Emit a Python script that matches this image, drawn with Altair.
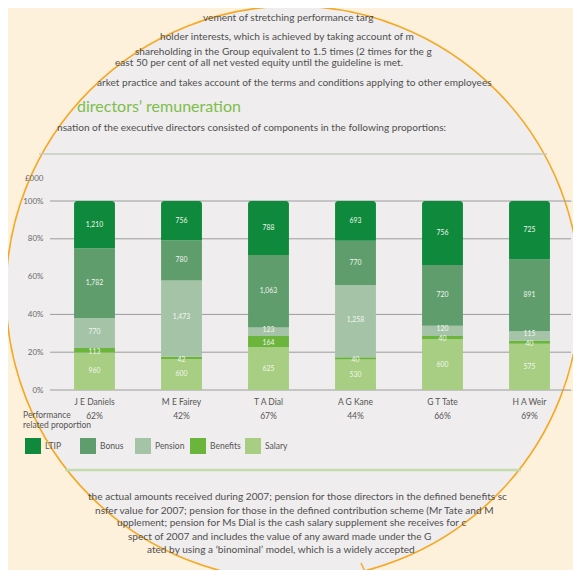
import altair as alt
import pandas as pd

# ---------------- data ----------------
DIRECTORS = ["J E Daniels", "M E Fairey", "T A Dial", "A G Kane", "G T Tate", "H A Weir"]
COMPONENTS = ["LTIP", "Bonus", "Pension", "Benefits", "Salary"]          # legend order
STACK_ORDER = ["Salary", "Benefits", "Pension", "Bonus", "LTIP"]        # bottom -> top
SALARY = [960, 600, 625, 530, 600, 575]
BENEFITS = [113, 42, 164, 40, 40, 40]
PENSION = [770, 1473, 123, 1258, 120, 115]
BONUS = [1782, 780, 1063, 770, 720, 891]
LTIP = [1210, 756, 788, 693, 756, 725]
PERF = ["62%", "42%", "67%", "44%", "66%", "69%"]
Y_TICKS = [0, 0.2, 0.4, 0.6, 0.8, 1.0]
GRID_LINES = [0, 0.2, 0.4, 0.8, 1.0]          # the 60% line is not drawn in the original
COLORS = ["#0f8a3c", "#5f9d6d", "#a5c4a7", "#6bb53d", "#a7ce82"]

HEADER_LINES = [
    "vement of stretching performance targ",
    "holder interests, which is achieved by taking account of m",
    "shareholding in the Group equivalent to 1.5 times (2 times for the g",
    "east 50 per cent of all net vested equity until the guideline is met.",
    "arket practice and takes account of the terms and conditions applying to other employees",
]
HEADING = "directors’ remuneration"
INTRO = "nsation of the executive directors consisted of components in the following proportions:"
PERF_LABEL = ["Performance", "related proportion"]
Y_UNIT = "£000"
FOOTER_LINES = [
    "the actual amounts received during 2007; pension for those directors in the defined benefits sc",
    "nsfer value for 2007; pension for those in the defined contribution scheme (Mr Tate and M",
    "upplement; pension for Ms Dial is the cash salary supplement she receives for c",
    "spect of 2007 and includes the value of any award made under the G",
    "ated by using a ‘binominal’ model, which is a widely accepted",
]

# ---------------- layout (page px, converted to plot coords) ----------------
PX0, PY0 = 51, 201
W, H = 522, 189
HEADER_POS = [(203, 18), (160, 37), (135, 52), (115, 63), (97, 83)]
HEADING_POS = (77, 107)
INTRO_POS = (57, 128)
FOOTER_POS = [(88, 497), (95, 511), (117, 523), (128, 537), (147, 550)]
LENS_CENTER, LENS_R = (293, 293), 287
HANDLE = ((361, 563), (368, 578))
FONT = "Lato"
TEXT_COLOR = "#4f4f4f"
PAGE_BG, LENS_BG, LENS_EDGE = "#fdf1dc", "#efeded", "#f5a823"

series = {"Salary": SALARY, "Benefits": BENEFITS, "Pension": PENSION,
          "Bonus": BONUS, "LTIP": LTIP}
rows = []
for comp in STACK_ORDER:
    for d, v in zip(DIRECTORS, series[comp]):
        rows.append({"director": d, "component": comp, "value": v,
                     "order": STACK_ORDER.index(comp)})
df = pd.DataFrame(rows)
perf_df = pd.DataFrame({"director": DIRECTORS, "perf": PERF})
grid_df = pd.DataFrame({"v": GRID_LINES})

x_enc = alt.X("director:N", sort=DIRECTORS, title=None,
              scale=alt.Scale(paddingInner=0.53, paddingOuter=0.265),
              axis=alt.Axis(labelAngle=0, ticks=False, domain=False, labelPadding=7,
                            labelFontSize=8.5, labelColor="#555555", labelFont=FONT,
                            zindex=1))
y_axis = alt.Axis(values=Y_TICKS, format="%", ticks=False, domain=False, labelPadding=8,
                  labelFontSize=8, labelColor="#6a6a6a", labelFont=FONT, grid=False,
                  title=Y_UNIT, titleAngle=0, titleAlign="right", titleBaseline="middle",
                  titleX=-8, titleY=-23, titleFontSize=8, titleFontWeight="normal",
                  titleColor="#6a6a6a", titleFont=FONT, zindex=1)
y_scale = alt.Scale(domain=[0, 1], nice=False)
color_enc = alt.Color("component:N", scale=alt.Scale(domain=COMPONENTS, range=COLORS),
                      legend=alt.Legend(title=None, orient="none", legendX=-26, legendY=237,
                                        direction="horizontal", symbolType="square",
                                        symbolSize=256, symbolStrokeWidth=0,
                                        labelFontSize=8.5, labelColor="#555555", labelFont=FONT,
                                        labelOffset=4, columnPadding=4, gridAlign="all",
                                        zindex=1))

one = pd.DataFrame({"k": [0]})
lens = alt.Chart(one).mark_point(
    shape="circle", filled=True, fill=LENS_BG, stroke=LENS_EDGE, strokeWidth=1.6,
    opacity=1, size=(2 * LENS_R) ** 2).encode(
    x=alt.value(LENS_CENTER[0] - PX0), y=alt.value(LENS_CENTER[1] - PY0))
handle = alt.Chart(one).mark_rule(color=LENS_EDGE, strokeWidth=1.4).encode(
    x=alt.value(HANDLE[0][0] - PX0), y=alt.value(HANDLE[0][1] - PY0),
    x2=alt.value(HANDLE[1][0] - PX0), y2=alt.value(HANDLE[1][1] - PY0))

grid = alt.Chart(grid_df).mark_rule(color="#9c9c9c", strokeWidth=1).encode(
    y=alt.Y("v:Q", scale=y_scale, axis=y_axis), x=alt.value(-1), x2=alt.value(W - 2))

base = (alt.Chart(df)
        .transform_stack(stack="value", groupby=["director"], offset="normalize",
                         sort=[alt.SortField("order", order="ascending")], as_=["lo", "hi"])
        .transform_calculate(mid="(datum.lo + datum.hi) / 2"))

bars = base.transform_filter("datum.component != 'LTIP'").mark_bar().encode(
    x=x_enc, y=alt.Y("lo:Q", scale=y_scale, axis=y_axis), y2="hi:Q", color=color_enc)
bars_top = base.transform_filter("datum.component == 'LTIP'").mark_bar(
    cornerRadiusTopLeft=3, cornerRadiusTopRight=3).encode(
    x=x_enc, y=alt.Y("lo:Q", scale=y_scale, axis=y_axis), y2="hi:Q", color=color_enc)


def seg_text(filter_expr, dy):
    return base.transform_filter(filter_expr).mark_text(
        color="#f2f6ef", fontSize=6.8, font=FONT, dy=dy).encode(
        x=x_enc, y=alt.Y("mid:Q", scale=y_scale, axis=y_axis),
        text=alt.Text("value:Q", format=","))


seg_main = seg_text("datum.component != 'Benefits' && datum.component != 'Pension'", 0)
seg_pension = seg_text("datum.component == 'Pension'", -1.5)
seg_benefits = seg_text("datum.component == 'Benefits'", 1.8)
perf_text = alt.Chart(perf_df).mark_text(fontSize=8.5, color="#555555", font=FONT).encode(
    x=x_enc, y=alt.value(416 - PY0), text="perf:N")


def note(text, px, py, size=10.1, color=TEXT_COLOR, baseline="middle", **kw):
    return alt.Chart(pd.DataFrame({"t": [text]})).mark_text(
        align="left", baseline=baseline, fontSize=size, color=color, font=FONT, **kw
    ).encode(x=alt.value(px - PX0), y=alt.value(py - PY0), text="t:N")


layers = [lens, handle, grid, bars, bars_top, seg_main, seg_pension, seg_benefits, perf_text]
for line, (px, py) in zip(HEADER_LINES, HEADER_POS):
    layers.append(note(line, px, py))
layers.append(note(HEADING, *HEADING_POS, size=16, color="#7dbd4c"))
layers.append(note(INTRO, *INTRO_POS))
for line, (px, py) in zip(FOOTER_LINES, FOOTER_POS):
    layers.append(note(line, px, py))
layers.append(alt.Chart(pd.DataFrame({"t": [PERF_LABEL]})).mark_text(
    align="left", baseline="top", fontSize=8.5, color="#555555", font=FONT, lineHeight=9.5
).encode(x=alt.value(23 - PX0), y=alt.value(411 - PY0), text="t"))

layers.append(alt.Chart(one).mark_rule(color="#c6cdbf", strokeWidth=1.5).encode(
    x=alt.value(39 - PX0), x2=alt.value(547 - PX0), y=alt.value(154 - PY0)))
layers.append(alt.Chart(one).mark_rule(color="#c4dbae", strokeWidth=2.5).encode(
    x=alt.value(65 - PX0), x2=alt.value(521 - PX0), y=alt.value(470 - PY0)))

chart = alt.layer(*layers).properties(
    width=W, height=H,
    autosize=alt.AutoSizeParams(type="none"),
    padding={"left": 43, "top": 193, "right": 0, "bottom": 180},
    background=PAGE_BG,
).configure_view(stroke=None).configure(font=FONT)

chart.save("out.html", embed_options={"renderer": "svg", "actions": False})
